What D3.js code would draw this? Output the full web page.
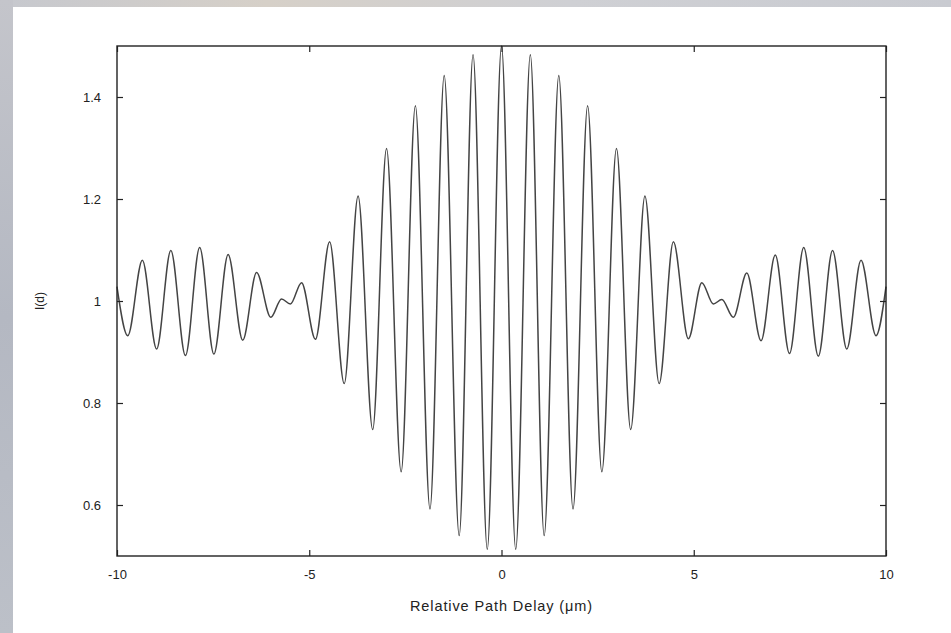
<!DOCTYPE html>
<html>
<head>
<meta charset="utf-8">
<script src="https://cdn.jsdelivr.net/npm/d3@7"></script>
<style>
  body { margin: 0; background: #fff; }
  svg { display: block; }
  text { font-family: "Liberation Sans", Arial, sans-serif; fill: #222; }
</style>
</head>
<body>
<div id="chart"></div>
<script>
// fringe extrema (delay in um, intensity)
var delay = [-10, -9.72, -9.34, -8.97, -8.60, -8.22, -7.85, -7.48, -7.11, -6.73,
  -6.37, -6.00, -5.72, -5.49, -5.20, -4.84, -4.47, -4.09, -3.73, -3.35,
  -2.99, -2.61, -2.24, -1.86, -1.49, -1.10, -0.74, -0.37, 0,
  0.37, 0.75, 1.11, 1.49, 1.86, 2.24, 2.61, 2.99, 3.36, 3.73,
  4.10, 4.47, 4.86, 5.21, 5.51, 5.73, 6.03, 6.38, 6.75, 7.12,
  7.49, 7.86, 8.24, 8.61, 8.98, 9.35, 9.74, 10];
var intensity = [1.028, 0.932, 1.080, 0.906, 1.099, 0.893, 1.105, 0.896, 1.091, 0.923,
  1.056, 0.968, 1.004, 0.994, 1.036, 0.925, 1.116, 0.838, 1.206, 0.748,
  1.299, 0.665, 1.383, 0.592, 1.442, 0.540, 1.483, 0.513, 1.500,
  0.513, 1.483, 0.540, 1.442, 0.592, 1.383, 0.665, 1.299, 0.748, 1.206,
  0.838, 1.116, 0.926, 1.036, 0.994, 1.003, 0.968, 1.055, 0.922, 1.090,
  0.897, 1.105, 0.892, 1.099, 0.906, 1.080, 0.932, 1.028];

var xTicks = [-10, -5, 0, 5, 10];
var yTicks = [0.6, 0.8, 1, 1.2, 1.4];
var xTitle = "Relative Path Delay (\u03bcm)";
var yTitle = "I(d)";

var W = 951, H = 633;
var plotLeft = 117, plotRight = 886, plotTop = 46, plotBottom = 556;

var svg = d3.select("#chart").append("svg")
    .attr("width", W)
    .attr("height", H);

// slide background bits showing at the edges
var defs = svg.append("defs");
var gl = defs.append("linearGradient").attr("id", "leftEdge")
    .attr("x1", 0).attr("y1", 0).attr("x2", 0).attr("y2", 1);
gl.append("stop").attr("offset", 0).attr("stop-color", "#c4c5cb");
gl.append("stop").attr("offset", 0.5).attr("stop-color", "#b4b8c2");
gl.append("stop").attr("offset", 1).attr("stop-color", "#bcc0c8");
var gt = defs.append("linearGradient").attr("id", "topEdge")
    .attr("x1", 0).attr("y1", 0).attr("x2", 1).attr("y2", 0);
gt.append("stop").attr("offset", 0).attr("stop-color", "#c6c8ce");
gt.append("stop").attr("offset", 0.28).attr("stop-color", "#d6d0c8");
gt.append("stop").attr("offset", 0.6).attr("stop-color", "#cfd0d4");
gt.append("stop").attr("offset", 1).attr("stop-color", "#c9cbd1");

svg.append("rect").attr("x", 0).attr("y", 0).attr("width", W).attr("height", 7)
    .attr("fill", "url(#topEdge)");
svg.append("rect").attr("x", 0).attr("y", 0).attr("width", 13).attr("height", H)
    .attr("fill", "url(#leftEdge)");

var x = d3.scaleLinear().domain([-10, 10]).range([plotLeft, plotRight]);
var y = d3.scaleLinear().domain([0.5, 1.5]).range([plotBottom, plotTop]);

var points = delay.map(function (d, i) { return [d, intensity[i]]; });

var line = d3.line()
    .x(function (p) { return x(p[0]); })
    .y(function (p) { return y(p[1]); })
    .curve(d3.curveMonotoneX);

svg.append("path")
    .attr("d", line(points))
    .attr("fill", "none")
    .attr("stroke", "#444")
    .attr("stroke-width", 1.5);

// axes, ticks point inwards on all four sides
var fmt = function (d) { return String(d); };
var tickLen = 6;

svg.append("g")
    .attr("transform", "translate(0," + plotBottom + ")")
    .call(d3.axisBottom(x).tickValues(xTicks).tickSize(-tickLen).tickPadding(14).tickFormat(fmt));
svg.append("g")
    .attr("transform", "translate(0," + plotTop + ")")
    .call(d3.axisTop(x).tickValues(xTicks).tickSize(-tickLen).tickFormat(""));
svg.append("g")
    .attr("transform", "translate(" + plotLeft + ",0)")
    .call(d3.axisLeft(y).tickValues(yTicks).tickSize(-tickLen).tickPadding(16).tickFormat(fmt));
svg.append("g")
    .attr("transform", "translate(" + plotRight + ",0)")
    .call(d3.axisRight(y).tickValues(yTicks).tickSize(-tickLen).tickFormat(""));

svg.selectAll(".domain").remove();
svg.selectAll(".tick line").attr("stroke", "#222").attr("stroke-width", 1.2);
svg.selectAll(".tick text")
    .style("font-family", "'Liberation Sans', Arial, sans-serif")
    .style("font-size", "13px")
    .attr("fill", "#222");

svg.append("rect")
    .attr("x", plotLeft).attr("y", plotTop)
    .attr("width", plotRight - plotLeft).attr("height", plotBottom - plotTop)
    .attr("fill", "none")
    .attr("stroke", "#222")
    .attr("stroke-width", 1.4);

svg.append("text")
    .attr("x", (plotLeft + plotRight) / 2)
    .attr("y", 611)
    .attr("text-anchor", "middle")
    .style("font-size", "14.5px")
    .style("letter-spacing", "0.9px")
    .text(xTitle);

svg.append("text")
    .attr("transform", "translate(44," + y(1) + ") rotate(-90)")
    .attr("text-anchor", "middle")
    .style("font-size", "12px")
    .text(yTitle);
</script>
</body>
</html>
